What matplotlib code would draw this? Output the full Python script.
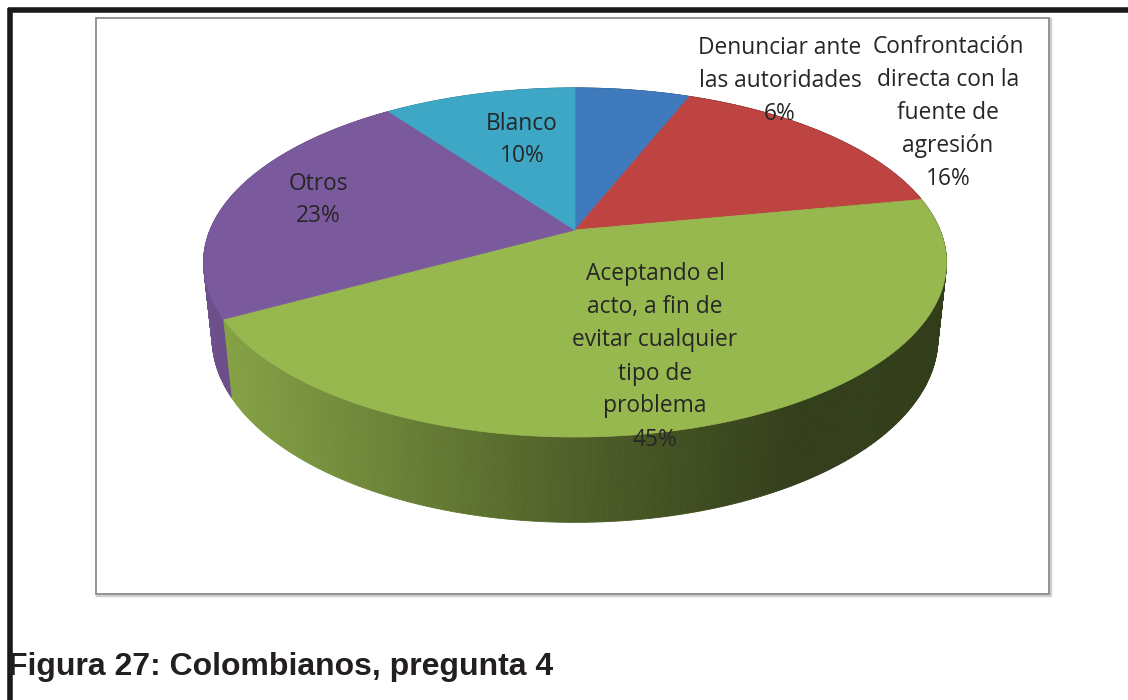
import numpy as np
import matplotlib
matplotlib.use("Agg")
import matplotlib.pyplot as plt
from matplotlib.collections import PolyCollection
from matplotlib.patches import Rectangle, Polygon

# datos
etiquetas = ["Denunciar ante\nlas autoridades\n6%",
             "Confrontación\ndirecta con la\nfuente de\nagresión\n16%",
             "Aceptando el\nacto, a fin de\nevitar cualquier\ntipo de\nproblema\n45%",
             "Otros\n23%",
             "Blanco\n10%"]
valores = [6, 16, 45, 23, 10]
colores = ["#3f7abd", "#be4441", "#97b84e", "#7a599c", "#3ea7c5"]

# posiciones de las etiquetas (pixeles)
pos_etq = [(780, 81), (948, 113), (655, 357), (318, 200), (522, 140)]

# geometria de la tarta 3D (perspectiva)
CX, CY, R = 575.0, 230.0, 365.0
theta = np.radians(27.5)
D = 4.77
H = 0.235


def proj(phi, z):
    x = np.sin(phi)
    y = np.cos(phi)
    d = y * np.cos(theta) - z * np.sin(theta)
    f = D / (D + d)
    Y = y * np.sin(theta) + z * np.cos(theta)
    return CX + R * x * f, CY - R * Y * f, d


def shade(rgb, px):
    nx = (px - CX) / 370.0
    k = np.interp(nx, [-1, 0, 0.6, 1], [0.9, 0.52, 0.34, 0.33])
    return tuple(np.clip(np.array(rgb) * k, 0, 1))


fig = plt.figure(figsize=(11.28, 7.0), dpi=100)
ax = fig.add_axes([0, 0, 1, 1])
ax.set_xlim(0, 1128)
ax.set_ylim(700, 0)
ax.axis("off")

# marco negro de la pagina
ax.plot([8, 1128], [10, 10], color="#1a1a1a", lw=4, solid_capstyle="butt", zorder=1)
ax.plot([9.5, 9.5], [8, 700], color="#1a1a1a", lw=4, solid_capstyle="butt", zorder=1)

# caja del grafico
ax.add_patch(Rectangle((97, 19), 953, 576, fill=False, edgecolor="#d0d0d0", lw=2.5, zorder=1))
ax.add_patch(Rectangle((96, 18), 953, 576, facecolor="white", edgecolor="#8c8c8c", lw=1.3, zorder=2))

fracs = np.array(valores) / sum(valores)
bordes = np.concatenate([[0], np.cumsum(fracs)]) * 2 * np.pi

# paredes laterales
polys, cols, depths = [], [], []
for i in range(len(valores)):
    rgb = matplotlib.colors.to_rgb(colores[i])
    phis = np.linspace(bordes[i], bordes[i + 1], max(int(fracs[i] * 720), 2) + 1)
    for a, b in zip(phis[:-1], phis[1:]):
        x1, y1, d1 = proj(a, 0)
        x2, y2, d2 = proj(b, 0)
        x3, y3, _ = proj(b, -H)
        x4, y4, _ = proj(a, -H)
        polys.append([(x1, y1), (x2, y2), (x3, y3), (x4, y4)])
        cols.append(shade(rgb, (x1 + x2) / 2))
        depths.append((d1 + d2) / 2)
orden = np.argsort(depths)[::-1]
pc = PolyCollection([polys[j] for j in orden], facecolors=[cols[j] for j in orden],
                    edgecolors=[cols[j] for j in orden], linewidths=0.6, zorder=3)
ax.add_collection(pc)

# cara superior
for i in range(len(valores)):
    phis = np.linspace(bordes[i], bordes[i + 1], 200)
    px, py, _ = proj(phis, 0)
    pts = [(CX, CY)] + list(zip(px, py))
    ax.add_patch(Polygon(pts, closed=True, facecolor=colores[i], edgecolor=colores[i],
                         lw=0.5, zorder=4))

# etiquetas
for txt, (x, y) in zip(etiquetas, pos_etq):
    ax.text(x, y, txt, ha="center", va="center", fontsize=16.4, family="Open Sans",
            color="#262626", linespacing=1.5, zorder=5)

ax.text(8, 667, "Figura 27: Colombianos, pregunta 4", ha="left", va="center",
        fontsize=23, fontweight="bold", family="Liberation Sans", color="#231f20", zorder=5)

fig.savefig("out.png", dpi=100)
